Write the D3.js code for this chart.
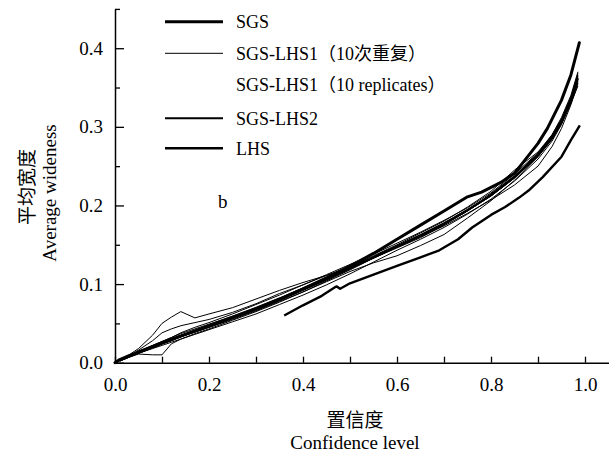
<!DOCTYPE html>
<html>
<head>
<meta charset="utf-8">
<script src="https://cdn.jsdelivr.net/npm/d3@7"></script>
<style>
  body { margin: 0; background: #fff; }
  svg text { font-family: 'Liberation Serif', 'Times New Roman', 'Noto Sans CJK SC', serif; fill: #000; }
</style>
</head>
<body>
<svg id="chart" width="615" height="455"></svg>
<script>
// tick labels
const xTicks = [0, 0.1, 0.2, 0.3, 0.4, 0.5, 0.6, 0.7, 0.8, 0.9, 1.0];
const yTicks = [0, 0.05, 0.1, 0.15, 0.2, 0.25, 0.3, 0.35, 0.4, 0.45];

// SGS
const sgsX = [0, 0.01, 0.03, 0.05, 0.1, 0.15, 0.2, 0.25, 0.3, 0.35, 0.4, 0.45, 0.5, 0.55, 0.6, 0.65, 0.7, 0.75, 0.78, 0.82, 0.85, 0.87, 0.9, 0.92, 0.95, 0.97, 0.988];
const sgsY = [0, 0.004, 0.009, 0.013, 0.025, 0.036, 0.047, 0.058, 0.069, 0.081, 0.094, 0.108, 0.123, 0.139, 0.157, 0.175, 0.193, 0.211, 0.217, 0.229, 0.241, 0.256, 0.279, 0.298, 0.334, 0.366, 0.407];

// SGS-LHS1 (10 replicates) and SGS-LHS2 share one x grid
const repX = [0.01, 0.03, 0.05, 0.08, 0.1, 0.12, 0.14, 0.17, 0.2, 0.25, 0.3, 0.35, 0.4, 0.45, 0.5, 0.55, 0.6, 0.65, 0.7, 0.75, 0.8, 0.85, 0.9, 0.93, 0.95, 0.97, 0.985];
const rep1 = [0.003, 0.010, 0.018, 0.035, 0.050, 0.058, 0.065, 0.057, 0.062, 0.070, 0.081, 0.092, 0.102, 0.111, 0.121, 0.134, 0.147, 0.161, 0.176, 0.193, 0.212, 0.235, 0.262, 0.284, 0.304, 0.330, 0.358];
const rep2 = [0.003, 0.009, 0.016, 0.028, 0.038, 0.043, 0.047, 0.051, 0.055, 0.064, 0.075, 0.088, 0.099, 0.111, 0.122, 0.134, 0.147, 0.161, 0.176, 0.193, 0.212, 0.235, 0.263, 0.287, 0.307, 0.335, 0.365];
const rep3 = [0.002, 0.007, 0.011, 0.010, 0.010, 0.024, 0.030, 0.037, 0.043, 0.054, 0.065, 0.077, 0.090, 0.104, 0.118, 0.133, 0.147, 0.161, 0.176, 0.194, 0.213, 0.237, 0.266, 0.288, 0.309, 0.336, 0.360];
const rep4 = [0.003, 0.008, 0.013, 0.019, 0.024, 0.028, 0.033, 0.039, 0.045, 0.055, 0.066, 0.078, 0.090, 0.103, 0.116, 0.127, 0.136, 0.149, 0.163, 0.184, 0.206, 0.232, 0.262, 0.285, 0.305, 0.332, 0.356];
const rep5 = [0.003, 0.008, 0.014, 0.021, 0.026, 0.031, 0.035, 0.041, 0.047, 0.058, 0.069, 0.082, 0.095, 0.108, 0.122, 0.136, 0.150, 0.165, 0.180, 0.198, 0.218, 0.245, 0.268, 0.290, 0.310, 0.338, 0.368];
const rep6 = [0.002, 0.007, 0.012, 0.019, 0.024, 0.028, 0.033, 0.039, 0.045, 0.056, 0.067, 0.079, 0.092, 0.105, 0.119, 0.133, 0.147, 0.160, 0.174, 0.190, 0.207, 0.226, 0.250, 0.275, 0.298, 0.328, 0.355];
const rep7 = [0.003, 0.008, 0.013, 0.020, 0.025, 0.030, 0.034, 0.040, 0.047, 0.058, 0.069, 0.081, 0.094, 0.107, 0.121, 0.135, 0.149, 0.163, 0.178, 0.195, 0.214, 0.237, 0.265, 0.287, 0.307, 0.334, 0.363];
const rep8 = [0.004, 0.009, 0.014, 0.022, 0.027, 0.032, 0.038, 0.045, 0.051, 0.062, 0.074, 0.086, 0.099, 0.112, 0.125, 0.138, 0.152, 0.166, 0.181, 0.197, 0.216, 0.240, 0.267, 0.289, 0.309, 0.337, 0.366];
const rep9 = [0.002, 0.007, 0.012, 0.018, 0.022, 0.026, 0.030, 0.036, 0.042, 0.052, 0.062, 0.074, 0.086, 0.099, 0.113, 0.128, 0.143, 0.157, 0.172, 0.189, 0.208, 0.231, 0.259, 0.282, 0.303, 0.330, 0.352];
const rep10 = [0.003, 0.009, 0.015, 0.022, 0.027, 0.032, 0.037, 0.043, 0.049, 0.059, 0.070, 0.082, 0.095, 0.107, 0.120, 0.133, 0.146, 0.159, 0.175, 0.193, 0.215, 0.238, 0.266, 0.290, 0.312, 0.340, 0.370];
const lhs2Y = [0.003, 0.008, 0.013, 0.020, 0.025, 0.029, 0.034, 0.040, 0.046, 0.057, 0.068, 0.080, 0.093, 0.106, 0.120, 0.134, 0.148, 0.162, 0.177, 0.194, 0.213, 0.236, 0.264, 0.286, 0.306, 0.333, 0.362];

// LHS
const lhsX = [0.36, 0.40, 0.44, 0.468, 0.472, 0.479, 0.5, 0.55, 0.6, 0.65, 0.69, 0.73, 0.76, 0.8, 0.83, 0.86, 0.88, 0.91, 0.95, 0.97, 0.989];
const lhsY = [0.060, 0.073, 0.085, 0.096, 0.097, 0.094, 0.101, 0.112, 0.123, 0.134, 0.143, 0.157, 0.172, 0.188, 0.198, 0.210, 0.219, 0.236, 0.262, 0.283, 0.302];

const legendNames = ['SGS', 'SGS-LHS1\uFF0810次重复\uFF09', 'SGS-LHS1\uFF0810 replicates\uFF09', 'SGS-LHS2', 'LHS'];

const svg = d3.select('#chart');

const x = d3.scaleLinear().domain([0, 1.05]).range([115, 608.5]);
const y = d3.scaleLinear().domain([0, 0.45]).range([362.7, 8.9]);

const line = d3.line().x(d => x(d[0])).y(d => y(d[1]));
const zip = (xs, ys) => xs.map((v, i) => [v, ys[i]]);

// x axis, ticks point inwards
const xAxis = svg.append('g')
    .attr('transform', `translate(0, ${y(0)})`)
    .call(d3.axisBottom(x)
        .tickValues(xTicks)
        .tickSizeInner(-6)
        .tickSizeOuter(0)
        .tickPadding(10)
        .tickFormat((d, i) => i % 2 === 0 ? d3.format('.1f')(d) : ''));
xAxis.select('.domain').attr('stroke-width', 1.5);
xAxis.selectAll('.tick line').attr('stroke-width', 1.3);
xAxis.selectAll('.tick text').attr('font-size', 19).attr('dy', '0.95em');

// y axis
const yAxis = svg.append('g')
    .attr('transform', `translate(${x(0)}, 0)`)
    .call(d3.axisLeft(y)
        .tickValues(yTicks)
        .tickSizeInner(-5)
        .tickSizeOuter(0)
        .tickPadding(12)
        .tickFormat((d, i) => i % 2 === 0 && d < 0.44 ? d3.format('.1f')(d) : ''));
yAxis.select('.domain').attr('stroke-width', 1.5);
yAxis.selectAll('.tick line')
    .attr('stroke-width', 1.3)
    .attr('x2', (d, i) => i % 2 === 0 && d < 0.44 ? 9 : 5);
yAxis.selectAll('.tick text').attr('font-size', 19).attr('x', -12);
svg.selectAll('.domain').attr('stroke', '#000');
svg.selectAll('.tick line').attr('stroke', '#000');

// replicates
const reps = [rep1, rep2, rep3, rep4, rep5, rep6, rep7, rep8, rep9, rep10];
svg.append('g').selectAll('path')
    .data(reps)
    .enter().append('path')
    .attr('d', r => line(zip(repX, r)))
    .attr('fill', 'none')
    .attr('stroke', '#000')
    .attr('stroke-width', 1)
    .attr('stroke-linejoin', 'round');

// SGS-LHS2
svg.append('path')
    .attr('d', line(zip(repX, lhs2Y)))
    .attr('fill', 'none').attr('stroke', '#000').attr('stroke-width', 2)
    .attr('stroke-linejoin', 'round');

// LHS
svg.append('path')
    .attr('d', line(zip(lhsX, lhsY)))
    .attr('fill', 'none').attr('stroke', '#000').attr('stroke-width', 2.4)
    .attr('stroke-linejoin', 'round');

// SGS
svg.append('path')
    .attr('d', line(zip(sgsX, sgsY)))
    .attr('fill', 'none').attr('stroke', '#000').attr('stroke-width', 3)
    .attr('stroke-linejoin', 'round').attr('stroke-linecap', 'round');

// legend
const legendRows = [
    {name: legendNames[0], w: 3, y: 21.7},
    {name: legendNames[1], w: 1, y: 53.3},
    {name: legendNames[2], w: 0, y: 85},
    {name: legendNames[3], w: 2, y: 118.3},
    {name: legendNames[4], w: 2.4, y: 148.3}
];
const lg = svg.append('g');
legendRows.forEach(r => {
    if (r.w > 0) {
        lg.append('line')
            .attr('x1', 165).attr('x2', 223)
            .attr('y1', r.y).attr('y2', r.y)
            .attr('stroke', '#000').attr('stroke-width', r.w);
    }
    lg.append('text')
        .attr('x', 236).attr('y', r.y)
        .attr('dy', '0.35em')
        .attr('font-size', 18)
        .text(r.name);
});

// panel label
svg.append('text').attr('x', 218).attr('y', 208).attr('font-size', 19).text('b');

// axis titles
svg.append('text').attr('x', 355).attr('y', 427)
    .attr('text-anchor', 'middle').attr('font-size', 19).text('置信度');
svg.append('text').attr('x', 355).attr('y', 449)
    .attr('text-anchor', 'middle').attr('font-size', 19).text('Confidence level');
svg.append('text')
    .attr('transform', 'translate(34, 187) rotate(-90)')
    .attr('text-anchor', 'middle').attr('font-size', 19).text('平均宽度');
svg.append('text')
    .attr('transform', 'translate(56, 193) rotate(-90)')
    .attr('text-anchor', 'middle').attr('font-size', 19).text('Average wideness');
</script>
</body>
</html>
